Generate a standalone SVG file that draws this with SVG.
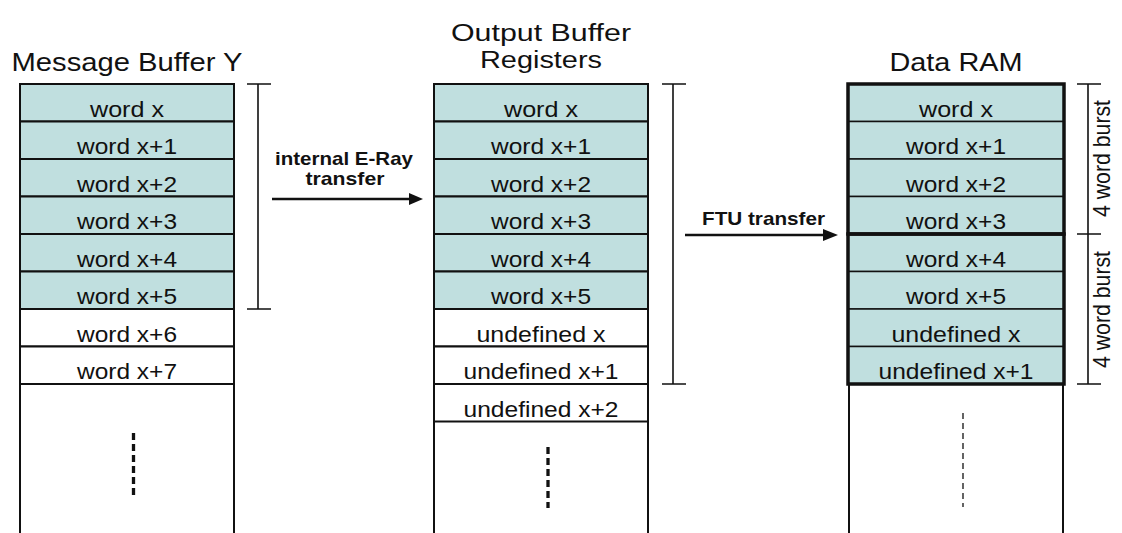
<svg xmlns="http://www.w3.org/2000/svg" width="1122" height="533" viewBox="0 0 1122 533">
<style>
.cell{fill:#C0DFDF;stroke:#111;stroke-width:2}
.wcell{fill:#fff;stroke:#111;stroke-width:2}
.rcell{fill:#C0DFDF;stroke:#111;stroke-width:1.5}
.edge{stroke:#111;stroke-width:2;fill:none}
.thick{stroke:#111;stroke-width:3.5;fill:none}
.t{font-family:"Liberation Sans",Arial,sans-serif;font-size:21.5px;fill:#111;text-anchor:middle}
.title{font-family:"Liberation Sans",Arial,sans-serif;font-size:25px;fill:#111;text-anchor:middle}
.title2{font-family:"Liberation Sans",Arial,sans-serif;font-size:23px;fill:#111;text-anchor:middle}
.lbl{font-family:"Liberation Sans",Arial,sans-serif;font-size:17.7px;font-weight:bold;fill:#111;text-anchor:middle}
.burst{font-family:"Liberation Sans",Arial,sans-serif;font-size:21.3px;fill:#111;text-anchor:middle}
.brk{stroke:#111;stroke-width:1.6;fill:none}
.dashk{stroke:#111;stroke-width:3.3;stroke-dasharray:7 4;fill:none}
.dasht{stroke:#111;stroke-width:1.3;stroke-dasharray:6 4;fill:none}
.conn{stroke:#111;stroke-width:2.5;fill:none}
</style>

<g id="msgbuf">
<text class="title" x="127" y="71" textLength="231" lengthAdjust="spacingAndGlyphs">Message Buffer Y</text>
<path class="edge" d="M20 384 V533 M234 384 V533"/>
<rect class="cell" x="20" y="84" width="214" height="37.5"/>
<rect class="cell" x="20" y="121.5" width="214" height="37.5"/>
<rect class="cell" x="20" y="159" width="214" height="37.5"/>
<rect class="cell" x="20" y="196.5" width="214" height="37.5"/>
<rect class="cell" x="20" y="234" width="214" height="37.5"/>
<rect class="cell" x="20" y="271.5" width="214" height="37.5"/>
<rect class="wcell" x="20" y="309" width="214" height="37.5"/>
<rect class="wcell" x="20" y="346.5" width="214" height="37.5"/>
<text class="t" x="127" y="116.5" textLength="74" lengthAdjust="spacingAndGlyphs">word x</text>
<text class="t" x="127" y="154" textLength="100" lengthAdjust="spacingAndGlyphs">word x+1</text>
<text class="t" x="127" y="191.5" textLength="100" lengthAdjust="spacingAndGlyphs">word x+2</text>
<text class="t" x="127" y="229" textLength="100" lengthAdjust="spacingAndGlyphs">word x+3</text>
<text class="t" x="127" y="266.5" textLength="100" lengthAdjust="spacingAndGlyphs">word x+4</text>
<text class="t" x="127" y="304" textLength="100" lengthAdjust="spacingAndGlyphs">word x+5</text>
<text class="t" x="127" y="341.5" textLength="100" lengthAdjust="spacingAndGlyphs">word x+6</text>
<text class="t" x="127" y="379" textLength="100" lengthAdjust="spacingAndGlyphs">word x+7</text>
<path class="dashk" d="M133.5 433 V496"/>
</g>

<g id="outbuf">
<text class="title2" x="541" y="41" textLength="180" lengthAdjust="spacingAndGlyphs">Output Buffer</text>
<text class="title2" x="541" y="68" textLength="122" lengthAdjust="spacingAndGlyphs">Registers</text>
<path class="edge" d="M434 421.5 V533 M648 421.5 V533"/>
<rect class="cell" x="434" y="84" width="214" height="37.5"/>
<rect class="cell" x="434" y="121.5" width="214" height="37.5"/>
<rect class="cell" x="434" y="159" width="214" height="37.5"/>
<rect class="cell" x="434" y="196.5" width="214" height="37.5"/>
<rect class="cell" x="434" y="234" width="214" height="37.5"/>
<rect class="cell" x="434" y="271.5" width="214" height="37.5"/>
<rect class="wcell" x="434" y="309" width="214" height="37.5"/>
<rect class="wcell" x="434" y="346.5" width="214" height="37.5"/>
<rect class="wcell" x="434" y="384" width="214" height="37.5"/>
<text class="t" x="541" y="116.5" textLength="74" lengthAdjust="spacingAndGlyphs">word x</text>
<text class="t" x="541" y="154" textLength="100" lengthAdjust="spacingAndGlyphs">word x+1</text>
<text class="t" x="541" y="191.5" textLength="100" lengthAdjust="spacingAndGlyphs">word x+2</text>
<text class="t" x="541" y="229" textLength="100" lengthAdjust="spacingAndGlyphs">word x+3</text>
<text class="t" x="541" y="266.5" textLength="100" lengthAdjust="spacingAndGlyphs">word x+4</text>
<text class="t" x="541" y="304" textLength="100" lengthAdjust="spacingAndGlyphs">word x+5</text>
<text class="t" x="541" y="341.5" textLength="129" lengthAdjust="spacingAndGlyphs">undefined x</text>
<text class="t" x="541" y="379" textLength="155" lengthAdjust="spacingAndGlyphs">undefined x+1</text>
<text class="t" x="541" y="416.5" textLength="155" lengthAdjust="spacingAndGlyphs">undefined x+2</text>
<path class="dashk" d="M548 447 V508"/>
</g>

<g id="dataram">
<text class="title" x="956" y="71" textLength="133" lengthAdjust="spacingAndGlyphs">Data RAM</text>
<path class="edge" d="M849 384 V533 M1063 384 V533"/>
<rect class="rcell" x="848" y="84" width="216" height="37.5"/>
<rect class="rcell" x="848" y="121.5" width="216" height="37.5"/>
<rect class="rcell" x="848" y="159" width="216" height="37.5"/>
<rect class="rcell" x="848" y="196.5" width="216" height="37.5"/>
<rect class="rcell" x="848" y="234" width="216" height="37.5"/>
<rect class="rcell" x="848" y="271.5" width="216" height="37.5"/>
<rect class="rcell" x="848" y="309" width="216" height="37.5"/>
<rect class="rcell" x="848" y="346.5" width="216" height="37.5"/>
<rect class="thick" x="848" y="84" width="216" height="150"/>
<rect class="thick" x="848" y="234" width="216" height="150"/>
<text class="t" x="956" y="116.5" textLength="74" lengthAdjust="spacingAndGlyphs">word x</text>
<text class="t" x="956" y="154" textLength="100" lengthAdjust="spacingAndGlyphs">word x+1</text>
<text class="t" x="956" y="191.5" textLength="100" lengthAdjust="spacingAndGlyphs">word x+2</text>
<text class="t" x="956" y="229" textLength="100" lengthAdjust="spacingAndGlyphs">word x+3</text>
<text class="t" x="956" y="266.5" textLength="100" lengthAdjust="spacingAndGlyphs">word x+4</text>
<text class="t" x="956" y="304" textLength="100" lengthAdjust="spacingAndGlyphs">word x+5</text>
<text class="t" x="956" y="341.5" textLength="129" lengthAdjust="spacingAndGlyphs">undefined x</text>
<text class="t" x="956" y="379" textLength="155" lengthAdjust="spacingAndGlyphs">undefined x+1</text>
<path class="dasht" d="M963 413 V507"/>
</g>

<g id="brackets">
<path class="brk" d="M258 84 V309 M247 84 H271 M247 309 H271"/>
<path class="brk" d="M673 84 V384 M662 84 H686 M662 384 H686"/>
<path class="brk" d="M1088 84 V384 M1077 84 H1101 M1077 234 H1101 M1077 384 H1101"/>
<text class="burst" transform="translate(1110,158.5) scale(1.16,1) rotate(-90)" x="0" y="0" textLength="117" lengthAdjust="spacingAndGlyphs">4 word burst</text>
<text class="burst" transform="translate(1110,309.5) scale(1.16,1) rotate(-90)" x="0" y="0" textLength="117" lengthAdjust="spacingAndGlyphs">4 word burst</text>
</g>

<g id="connectors">
<path class="conn" d="M272 199 H410"/>
<polygon points="409,193 423,199 409,205" fill="#111"/>
<text class="lbl" x="344" y="164.5" textLength="138" lengthAdjust="spacingAndGlyphs">internal E-Ray</text>
<text class="lbl" x="345" y="185" textLength="79" lengthAdjust="spacingAndGlyphs">transfer</text>
<path class="conn" d="M685 235 H824"/>
<polygon points="823,229 838,235 823,241" fill="#111"/>
<text class="lbl" x="763.5" y="225" textLength="123" lengthAdjust="spacingAndGlyphs">FTU transfer</text>
</g>
</svg>
